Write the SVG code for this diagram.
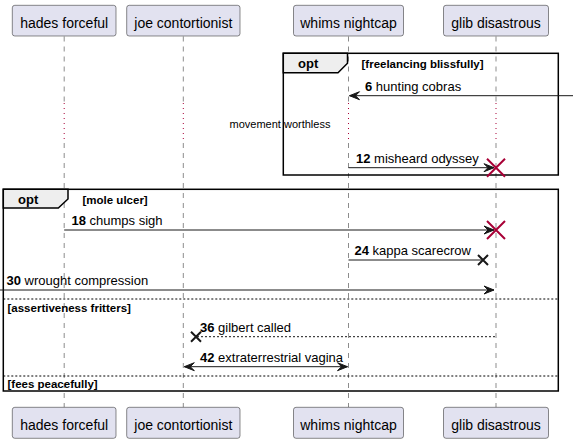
<svg xmlns="http://www.w3.org/2000/svg" width="573" height="443" viewBox="0 0 573 443">
<style>
.box{fill:#E2E2F0;stroke:#181818;stroke-width:0.5}
.pt{font-family:"Liberation Sans",Arial,sans-serif;font-size:14px;fill:#000;text-anchor:middle}
.life{stroke:#181818;stroke-width:0.5;stroke-dasharray:5,5;fill:none}
.dot{stroke:#A80036;stroke-width:1;stroke-dasharray:1,4;fill:none}
.frame{fill:none;stroke:#000;stroke-width:1.5}
.tab{fill:#EEEEEE;stroke:#000;stroke-width:1.5}
.ft{font-family:"Liberation Sans",Arial,sans-serif;font-size:13px;font-weight:bold;fill:#000}
.gt{font-family:"Liberation Sans",Arial,sans-serif;font-size:11.5px;font-weight:bold;fill:#000}
.sep{stroke:#000;stroke-width:1;stroke-dasharray:2,2;fill:none}
.msg{stroke:#181818;stroke-width:1;fill:none}
.dmsg{stroke:#181818;stroke-width:1;stroke-dasharray:2,2;fill:none}
.head{fill:#181818;stroke:#181818;stroke-width:1}
.mt{font-family:"Liberation Sans",Arial,sans-serif;font-size:13px;fill:#000}
.num{font-weight:bold}
.xr{stroke:#A80036;stroke-width:2;fill:none}
.xb{stroke:#181818;stroke-width:2;fill:none}
.dl{font-family:"Liberation Sans",Arial,sans-serif;font-size:11px;fill:#000;text-anchor:middle}
</style>
<g id="lifelines">
<path class="life" d="M64.2,36.5V103M64.2,143V407.3"/>
<path class="dot" d="M64.2,103V143"/>
<path class="life" d="M183.3,36.5V103M183.3,143V407.3"/>
<path class="dot" d="M183.3,103V143"/>
<path class="life" d="M348.5,36.5V103M348.5,143V407.3"/>
<path class="dot" d="M348.5,103V143"/>
<path class="life" d="M496,36.5V103M496,143V407.3"/>
<path class="dot" d="M496,103V143"/>
</g>
<g id="hades">
<rect class="box" x="12.3" y="5.3" width="103.7" height="30.7" rx="2.5"/>
<text class="pt" x="64.2" y="27.5">hades forceful</text>
<rect class="box" x="12.3" y="407.3" width="103.7" height="31" rx="2.5"/>
<text class="pt" x="64.2" y="429.5">hades forceful</text>
</g>
<g id="joe">
<rect class="box" x="126.7" y="5.3" width="113.3" height="30.7" rx="2.5"/>
<text class="pt" x="183.3" y="27.5">joe contortionist</text>
<rect class="box" x="126.7" y="407.3" width="113.3" height="31" rx="2.5"/>
<text class="pt" x="183.3" y="429.5">joe contortionist</text>
</g>
<g id="whims">
<rect class="box" x="293.5" y="5.3" width="110" height="30.7" rx="2.5"/>
<text class="pt" x="348.5" y="27.5">whims nightcap</text>
<rect class="box" x="293.5" y="407.3" width="110" height="31" rx="2.5"/>
<text class="pt" x="348.5" y="429.5">whims nightcap</text>
</g>
<g id="glib">
<rect class="box" x="443.5" y="5.3" width="105" height="30.7" rx="2.5"/>
<text class="pt" x="496" y="27.5">glib disastrous</text>
<rect class="box" x="443.5" y="407.3" width="105" height="31" rx="2.5"/>
<text class="pt" x="496" y="429.5">glib disastrous</text>
</g>
<g id="frame1">
<rect class="frame" x="283.3" y="53.3" width="275" height="121.7"/>
<path class="tab" d="M283.3,53.3H347.5V63.3L338,72.7H283.3Z"/>
<text class="ft" x="298" y="68">opt</text>
<text class="gt" x="361.5" y="68">[freelancing blissfully]</text>
</g>
<g id="delay">
<text class="dl" x="280" y="128">movement worthless</text>
</g>
<g id="frame2">
<rect class="frame" x="3.3" y="189.3" width="555" height="201.7"/>
<path class="tab" d="M3.3,189.3H68V199L58.3,208H3.3Z"/>
<text class="ft" x="18" y="204">opt</text>
<text class="gt" x="82.5" y="204">[mole ulcer]</text>
<path class="sep" d="M3.3,299H558.3"/>
<text class="gt" x="7.5" y="311.5">[assertiveness fritters]</text>
<path class="sep" d="M3.3,376H558.3"/>
<text class="gt" x="7.5" y="387.5">[fees peacefully]</text>
</g>
<g id="connectors">
<path class="msg" d="M573,95.7H349.5"/>
<polygon class="head" points="359.5,91.7 349.5,95.7 359.5,99.7 355.5,95.7"/>
<text class="mt" x="365" y="90.5"><tspan class="num">6</tspan> hunting cobras</text>

<path class="msg" d="M348.5,167.7H494"/>
<polygon class="head" points="484,163.7 494,167.7 484,171.7 488,167.7"/>
<path class="xr" d="M487,158.7L505,176.7M505,158.7L487,176.7"/>
<text class="mt" x="356" y="162.5"><tspan class="num">12</tspan> misheard odyssey</text>

<path class="msg" d="M64.2,230H494"/>
<polygon class="head" points="484,226 494,230 484,234 488,230"/>
<path class="xr" d="M487,221L505,239M505,221L487,239"/>
<text class="mt" x="71.5" y="225"><tspan class="num">18</tspan> chumps sigh</text>

<path class="msg" d="M348.5,260H483"/>
<path class="xb" d="M478,255L488,265M488,255L478,265"/>
<text class="mt" x="354.5" y="255"><tspan class="num">24</tspan> kappa scarecrow</text>

<path class="msg" d="M0,290H494"/>
<polygon class="head" points="484,286 494,290 484,294 488,290"/>
<text class="mt" x="6.5" y="285"><tspan class="num">30</tspan> wrought compression</text>

<path class="dmsg" d="M495,336.7H197"/>
<path class="xb" d="M191,331.7L201,341.7M201,331.7L191,341.7"/>
<text class="mt" x="200" y="331.5"><tspan class="num">36</tspan> gilbert called</text>

<path class="msg" d="M184.3,366.7H347.5"/>
<polygon class="head" points="194.3,362.7 184.3,366.7 194.3,370.7 190.3,366.7"/>
<polygon class="head" points="337.5,362.7 347.5,366.7 337.5,370.7 341.5,366.7"/>
<text class="mt" x="200" y="361.5"><tspan class="num">42</tspan> extraterrestrial vagina</text>
</g>
</svg>
